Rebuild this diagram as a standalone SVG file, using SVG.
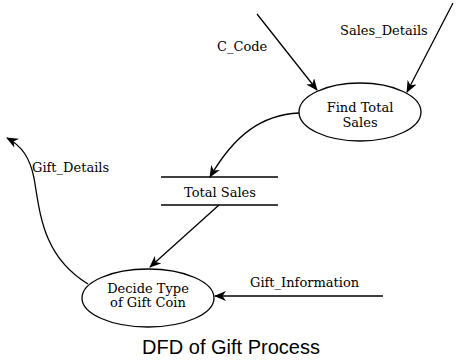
<svg xmlns="http://www.w3.org/2000/svg" width="462" height="360" viewBox="0 0 462 360">
<style>
.lbl{font-family:"DejaVu Serif","Liberation Serif",serif;font-size:13px;fill:#000}
.c{text-anchor:middle}
.shape{fill:#fff;stroke:#000;stroke-width:1.3}
.flow{fill:none;stroke:#000;stroke-width:1.3;marker-end:url(#ah)}
.title{font-family:"Liberation Sans",Arial,sans-serif;font-size:20px;text-anchor:middle;fill:#000}
</style>
<defs>
<marker id="ah" viewBox="0 0 12 10" refX="11" refY="5" markerWidth="12" markerHeight="10" markerUnits="userSpaceOnUse" orient="auto">
<path d="M0,0 L12,5 L0,10 L3.5,5 z" fill="#000"/>
</marker>
</defs>
<rect width="462" height="360" fill="#fff"/>
<g id="connectors">
<path class="flow" d="M257,14 L317,90"/>
<path class="flow" d="M453,3 L407,92"/>
<path class="flow" d="M299,113 C262,115 235,134 210,177"/>
<path class="flow" d="M219,205 L150,267"/>
<path class="flow" d="M383,296 L215,296"/>
<path class="flow" d="M88,284 C42,256 40,212 34,178 C30,158 22,146 7,138"/>
</g>
<g id="labels">
<text class="lbl" x="217" y="51">C_Code</text>
<text class="lbl" x="340" y="35">Sales_Details</text>
<text class="lbl" x="32" y="172">Gift_Details</text>
<text class="lbl" x="250" y="287">Gift_Information</text>
</g>
<g id="find-total-sales">
<ellipse class="shape" cx="360" cy="112" rx="61" ry="29"/>
<text class="lbl c" x="360" y="112">Find Total</text>
<text class="lbl c" x="360" y="127">Sales</text>
</g>
<g id="total-sales">
<line x1="161" y1="177" x2="278" y2="177" stroke="#000" stroke-width="1.3"/>
<line x1="161" y1="205" x2="278" y2="205" stroke="#000" stroke-width="1.3"/>
<text class="lbl c" x="220" y="197">Total Sales</text>
</g>
<g id="decide-type">
<ellipse class="shape" cx="148" cy="298" rx="66" ry="29"/>
<text class="lbl c" x="148" y="293">Decide Type</text>
<text class="lbl c" x="148" y="307">of Gift Coin</text>
</g>
<text class="title" x="231" y="354">DFD of Gift Process</text>
</svg>
